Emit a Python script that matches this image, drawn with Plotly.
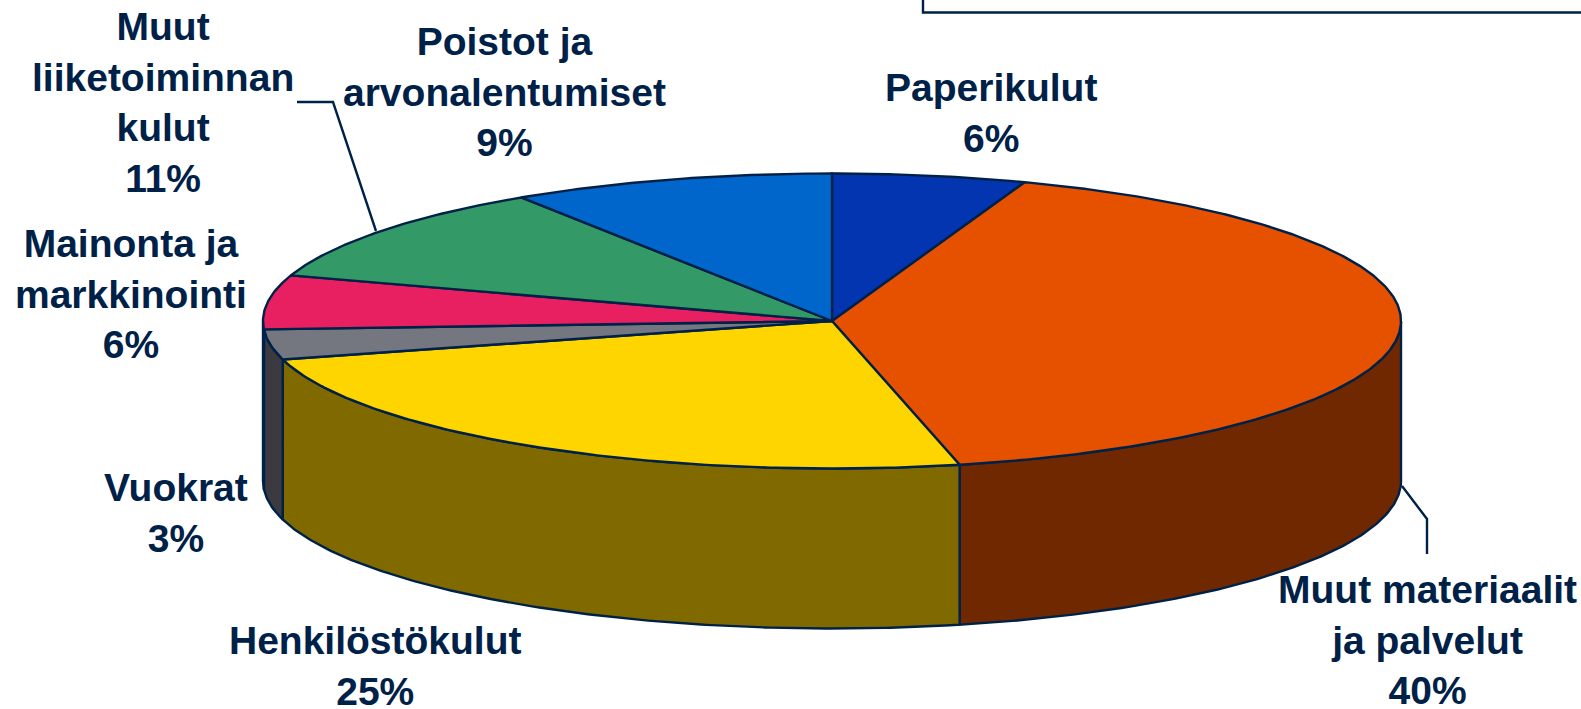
import numpy as np
import plotly.graph_objects as go

categories = ["Paperikulut", "Muut materiaalit<br>ja palvelut", "Henkilöstökulut", "Vuokrat",
              "Mainonta ja<br>markkinointi", "Muut<br>liiketoiminnan<br>kulut", "Poistot ja<br>arvonalentumiset"]
shares = [5.5, 40.9, 24.4, 3.3, 5.9, 10.8, 9.2]
percent_labels = ["6%", "40%", "25%", "3%", "6%", "11%", "9%"]
top_colors = ["#0335B0", "#E65100", "#FFD500", "#747680", "#E81F60", "#339966", "#0066CC"]
side_colors = ["#021A58", "#702800", "#806A00", "#3A3A40", "#741030", "#1A4C33", "#003366"]
label_x = [991, 1427, 375, 176, 131, 163, 504]
label_y = [113, 640, 666, 513, 294, 102, 92]

INK = "#002147"
CX, CY, RX, RY, DEPTH = 832, 321, 569, 147.5, 160

edges = np.radians(np.concatenate([[0], np.cumsum(shares)]) * 3.6)


def rim(a0, a1, drop=0.0):
    n = max(2, int(np.degrees(a1 - a0) * 2))
    t = np.linspace(a0, a1, n)
    return CX + RX * np.sin(t), CY - RY * np.cos(t) + drop


fig = go.Figure()


def face(x, y, color):
    fig.add_trace(go.Scatter(x=x, y=y, mode="lines", fill="toself", fillcolor=color,
                             line=dict(color=INK, width=2.4), hoverinfo="skip", showlegend=False))


# outer wall: only the front half (90 to 270 degrees) is visible
for i in range(len(shares)):
    a0, a1 = max(edges[i], np.pi / 2), min(edges[i + 1], 3 * np.pi / 2)
    if a1 <= a0:
        continue
    xt, yt = rim(a0, a1)
    xb, yb = rim(a0, a1, DEPTH)
    face(np.r_[xt, xb[::-1], xt[0]], np.r_[yt, yb[::-1], yt[0]], side_colors[i])

# top face
for i in range(len(shares)):
    xt, yt = rim(edges[i], edges[i + 1])
    face(np.r_[CX, xt, CX], np.r_[CY, yt, CY], top_colors[i])

for name, pct, x, y in zip(categories, percent_labels, label_x, label_y):
    fig.add_annotation(x=x, y=y, text=f"{name}<br>{pct}", showarrow=False, align="center",
                       xanchor="center", yanchor="middle",
                       font=dict(family="Liberation Sans", size=39, color=INK, weight="bold"))

line = dict(color=INK, width=2.4)
fig.add_shape(type="path", path="M 297 102 L 333 102 L 376 231", line=line)
fig.add_shape(type="path", path="M 1402 486 L 1427 519 L 1427 554", line=line)
fig.add_shape(type="path", path="M 923 0 L 923 12.5 L 1581 12.5", line=line)

fig.update_layout(
    width=1581, height=709, autosize=False,
    margin=dict(l=0, r=0, t=0, b=0),
    paper_bgcolor="white", plot_bgcolor="white",
    xaxis=dict(range=[0, 1581], visible=False, fixedrange=True),
    yaxis=dict(range=[709, 0], visible=False, fixedrange=True),
)
fig.write_html("out.html", config=dict(displayModeBar=False),
               post_script="document.body.style.margin='0';document.body.style.overflow='hidden';")
